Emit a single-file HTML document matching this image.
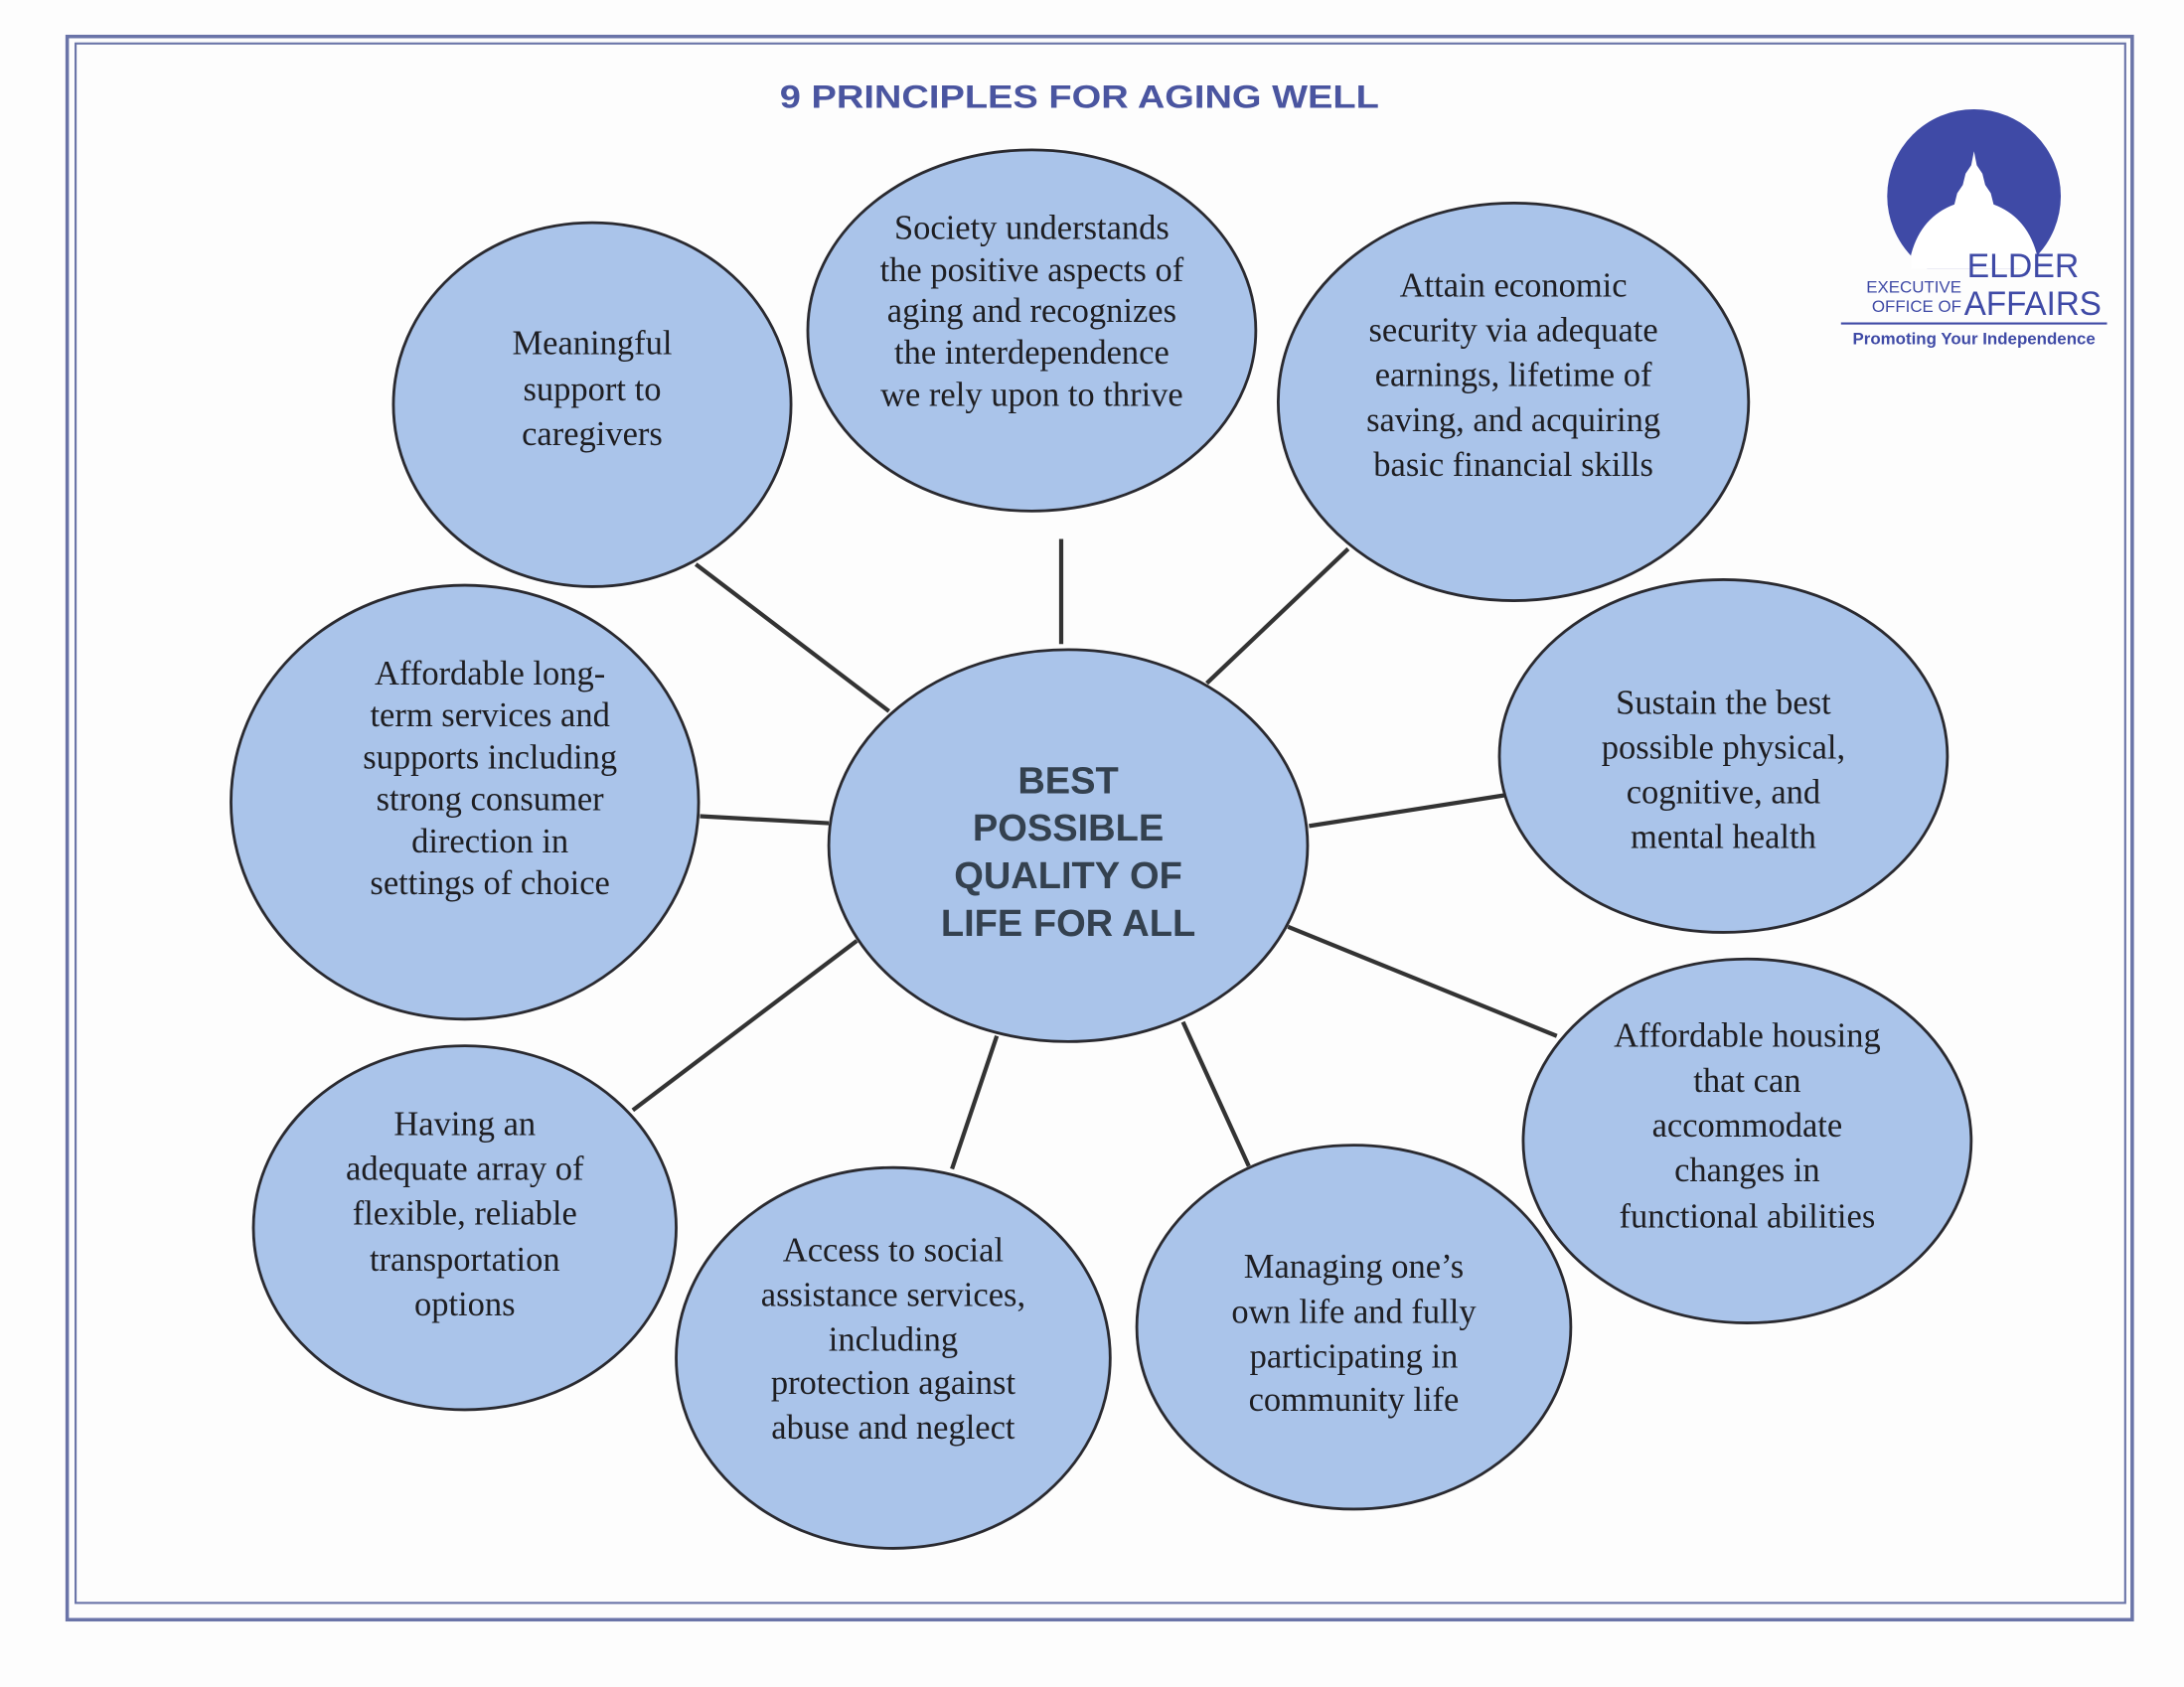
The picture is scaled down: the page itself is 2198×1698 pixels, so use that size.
<!DOCTYPE html>
<html><head><meta charset="utf-8"><style>
html,body{margin:0;padding:0;background:#fff;}
svg{display:block;}
.s{font-family:"Liberation Serif",serif;font-size:24.5px;fill:#1e1e22;text-anchor:middle;dominant-baseline:central;}
</style></head><body>
<svg width="2198" height="1698" viewBox="0 0 1560 1205" xmlns="http://www.w3.org/2000/svg">
<rect width="1560" height="1205" fill="#fdfdfd"/>
<rect x="48" y="26" width="1475" height="1131" fill="none" stroke="#6a74a8" stroke-width="2.5"/>
<rect x="54" y="31" width="1464" height="1114" fill="none" stroke="#6a74a8" stroke-width="1.5"/>
<text x="771" y="69" font-family="Liberation Sans,sans-serif" font-weight="bold" font-size="23" fill="#4a55a0" text-anchor="middle" dominant-baseline="central" textLength="428" lengthAdjust="spacingAndGlyphs">9 PRINCIPLES FOR AGING WELL</text>
<!-- logo -->
<defs><clipPath id="c"><rect x="1300" y="60" width="220" height="132"/></clipPath></defs>
<circle cx="1410" cy="140" r="62" fill="#3f4aa6" clip-path="url(#c)"/>
<path d="M1365 192 L1365 182 Q1372 155 1396 146 L1398 138 L1402 132 L1404 124 L1408 118 L1410 108 L1412 118 L1416 124 L1418 132 L1422 138 L1424 146 Q1448 155 1455 182 L1455 192 Z" fill="#fff"/>
<text x="1405" y="190" font-family="Liberation Sans,sans-serif" font-size="24" fill="#3f4aa6" dominant-baseline="central">ELDER</text>
<text x="1403" y="217" font-family="Liberation Sans,sans-serif" font-size="24" fill="#3f4aa6" dominant-baseline="central" textLength="98" lengthAdjust="spacingAndGlyphs">AFFAIRS</text>
<text x="1401" y="205" font-family="Liberation Sans,sans-serif" font-size="12" fill="#3f4aa6" text-anchor="end" dominant-baseline="central">EXECUTIVE</text>
<text x="1401" y="219" font-family="Liberation Sans,sans-serif" font-size="12" fill="#3f4aa6" text-anchor="end" dominant-baseline="central">OFFICE OF</text>
<line x1="1315" y1="231" x2="1505" y2="231" stroke="#3f4aa6" stroke-width="1.5"/>
<text x="1410" y="242" font-family="Liberation Sans,sans-serif" font-size="12" font-weight="bold" fill="#3f4aa6" text-anchor="middle" dominant-baseline="central">Promoting Your Independence</text>
<!-- connectors -->
<g stroke="#333" stroke-width="3">
<line x1="497" y1="403" x2="635" y2="508"/>
<line x1="758" y1="385" x2="758" y2="460"/>
<line x1="963" y1="392" x2="862" y2="488"/>
<line x1="935" y1="590" x2="1075" y2="568"/>
<line x1="920" y1="662" x2="1112" y2="740"/>
<line x1="845" y1="730" x2="892" y2="833"/>
<line x1="712" y1="740" x2="680" y2="835"/>
<line x1="612" y1="672" x2="452" y2="793"/>
<line x1="500" y1="583" x2="592" y2="588"/>
</g>
<g fill="#aac4ea" stroke="#2a2a30" stroke-width="2">
<ellipse cx="423" cy="289" rx="142" ry="130"/>
<ellipse cx="737" cy="236" rx="160" ry="129"/>
<ellipse cx="1081" cy="287" rx="168" ry="142"/>
<ellipse cx="1231" cy="540" rx="160" ry="126"/>
<ellipse cx="1248" cy="815" rx="160" ry="130"/>
<ellipse cx="967" cy="948" rx="155" ry="130"/>
<ellipse cx="638" cy="970" rx="155" ry="136"/>
<ellipse cx="332" cy="877" rx="151" ry="130"/>
<ellipse cx="332" cy="573" rx="167" ry="155"/>
<ellipse cx="763" cy="604" rx="171" ry="140"/>
</g>
<g>
<text class="s" x="423" y="245">Meaningful</text><text class="s" x="423" y="278">support to</text><text class="s" x="423" y="310">caregivers</text>
<text class="s" x="737" y="163" font-size="23">Society understands</text><text class="s" x="737" y="193" font-size="23">the positive aspects of</text><text class="s" x="737" y="222" font-size="23">aging and recognizes</text><text class="s" x="737" y="252" font-size="23">the interdependence</text><text class="s" x="737" y="282" font-size="23">we rely upon to thrive</text>
<text class="s" x="1081" y="204">Attain economic</text><text class="s" x="1081" y="236">security via adequate</text><text class="s" x="1081" y="268">earnings, lifetime of</text><text class="s" x="1081" y="300">saving, and acquiring</text><text class="s" x="1081" y="332">basic financial skills</text>
<text class="s" x="1231" y="502">Sustain the best</text><text class="s" x="1231" y="534">possible physical,</text><text class="s" x="1231" y="566">cognitive, and</text><text class="s" x="1231" y="598">mental health</text>
<text class="s" x="1248" y="740">Affordable housing</text><text class="s" x="1248" y="772">that can</text><text class="s" x="1248" y="804">accommodate</text><text class="s" x="1248" y="836">changes in</text><text class="s" x="1248" y="869">functional abilities</text>
<text class="s" x="967" y="905">Managing one’s</text><text class="s" x="967" y="937">own life and fully</text><text class="s" x="967" y="969">participating in</text><text class="s" x="967" y="1000">community life</text>
<text class="s" x="638" y="893">Access to social</text><text class="s" x="638" y="925">assistance services,</text><text class="s" x="638" y="957">including</text><text class="s" x="638" y="988">protection against</text><text class="s" x="638" y="1020">abuse and neglect</text>
<text class="s" x="332" y="803">Having an</text><text class="s" x="332" y="835">adequate array of</text><text class="s" x="332" y="867">flexible, reliable</text><text class="s" x="332" y="900">transportation</text><text class="s" x="332" y="932">options</text>
<text class="s" x="350" y="481" font-size="22">Affordable long-</text><text class="s" x="350" y="511" font-size="22">term services and</text><text class="s" x="350" y="541" font-size="22">supports including</text><text class="s" x="350" y="571" font-size="22">strong consumer</text><text class="s" x="350" y="601" font-size="22">direction in</text><text class="s" x="350" y="631" font-size="22">settings of choice</text>
</g>
<g font-family="Liberation Sans,sans-serif" font-weight="bold" font-size="27" fill="#34414f" text-anchor="middle" dominant-baseline="central">
<text x="763" y="558">BEST</text><text x="763" y="592">POSSIBLE</text><text x="763" y="626">QUALITY OF</text><text x="763" y="660">LIFE FOR ALL</text>
</g>
</svg>
</body></html>
